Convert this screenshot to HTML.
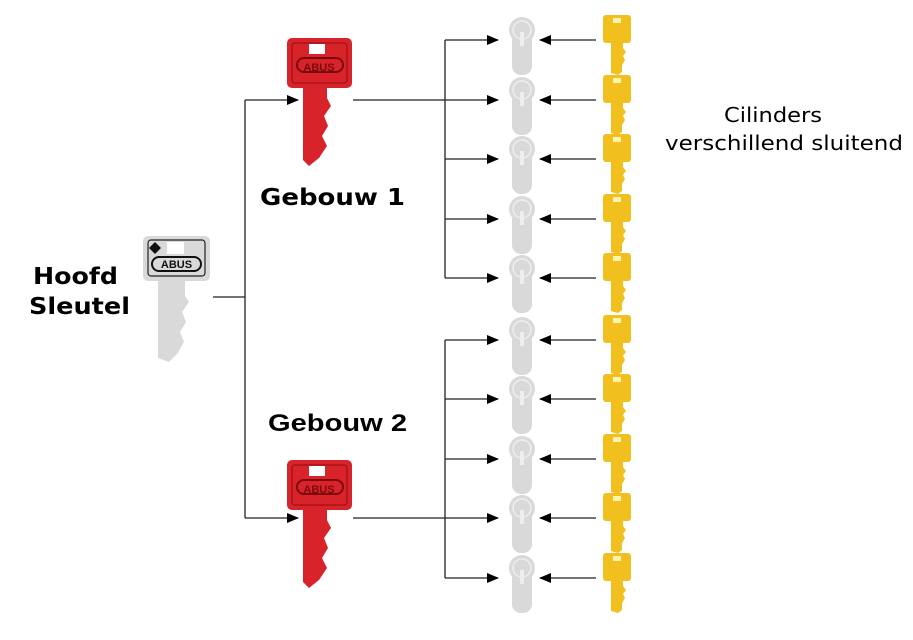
<!DOCTYPE html>
<html><head><meta charset="utf-8"><style>
html,body{margin:0;padding:0;background:#fff;}
svg{display:block}
</style></head><body>
<svg width="913" height="640" viewBox="0 0 913 640" xmlns="http://www.w3.org/2000/svg">
<defs>
<marker id="ar" markerWidth="12" markerHeight="10" refX="11" refY="5" orient="auto" markerUnits="userSpaceOnUse">
<path d="M0,0 L12,5 L0,10 Z" fill="#000"/>
</marker>
<g id="cyl">
<circle cx="0" cy="-10" r="13" fill="#d9d9d9"/>
<rect x="-10" y="-10" width="20" height="45" rx="9" fill="#d9d9d9"/>
<circle cx="0" cy="-10" r="9" fill="none" stroke="#eee" stroke-width="1.5"/>
<rect x="-2" y="-8" width="4" height="14" fill="#eee"/>
</g>
<g id="ykey">
<rect x="-14" y="-25" width="28" height="28" rx="3" fill="#f2c01e"/>
<rect x="-4" y="-22" width="8" height="5" fill="#fff3b0"/>
<path d="M-6,3 L6,3 L6,8 L9,12 L6,16 L8,20 L5,25 L5,32 L1,35 L-6,33 Z" fill="#f2c01e"/>
</g>
<g id="rkey">
<rect x="0" y="0" width="65" height="50" rx="5" fill="#d8232a"/>
<rect x="5" y="5" width="55" height="40" rx="3" fill="none" stroke="#a8141a" stroke-width="1.5"/>
<rect x="22" y="6" width="16" height="10" fill="#fff"/>
<rect x="10" y="20" width="46" height="14" rx="7" fill="none" stroke="#7a0a0e" stroke-width="2"/>
<path d="M16,50 L40,50 L40,60 L44,68 L37,78 L41,88 L35,98 L40,108 L32,120 L22,128 L16,122 Z" fill="#d8232a"/>
</g>
</defs>

<!-- master key -->
<g transform="translate(143,236)">
<rect x="0" y="0" width="67" height="45" rx="5" fill="#d9d9d9"/>
<rect x="5" y="4" width="57" height="36" rx="3" fill="none" stroke="#222" stroke-width="1.2"/>
<rect x="24" y="6" width="17" height="12" fill="#fff"/>
<path d="M12,6 L18,12 L12,18 L6,12 Z" fill="#111"/>
<rect x="9" y="21" width="49" height="14" rx="7" fill="none" stroke="#111" stroke-width="2"/>
<text x="33.5" y="32" font-family="Liberation Sans, sans-serif" font-weight="bold" font-size="11" text-anchor="middle" fill="#111">ABUS</text>
<path d="M15,45 L42,45 L42,60 L46,66 L39,76 L43,86 L37,96 L41,106 L34,118 L26,126 L15,122 Z" fill="#d9d9d9"/>
</g>

<use href="#rkey" x="287" y="38"/>
<text x="319" y="71" font-family="Liberation Sans, sans-serif" font-weight="bold" font-size="11" text-anchor="middle" fill="#7a0a0e">ABUS</text>
<use href="#rkey" x="287" y="460"/>
<text x="319" y="493" font-family="Liberation Sans, sans-serif" font-weight="bold" font-size="11" text-anchor="middle" fill="#7a0a0e">ABUS</text>

<g stroke="#222" stroke-width="1.3" fill="none">
<line x1="213" y1="297" x2="245" y2="297"/>
<line x1="245" y1="100" x2="245" y2="518"/>
<line x1="245" y1="100" x2="298" y2="100" marker-end="url(#ar)"/>
<line x1="245" y1="518" x2="298" y2="518" marker-end="url(#ar)"/>
<line x1="353" y1="100" x2="445" y2="100"/>
<line x1="353" y1="518" x2="445" y2="518"/>
<line x1="445" y1="40" x2="445" y2="278"/>
<line x1="445" y1="340" x2="445" y2="578"/>
</g>

<g stroke="#222" stroke-width="1.3">
<line x1="445" y1="40" x2="498" y2="40" marker-end="url(#ar)"/>
<line x1="445" y1="100" x2="498" y2="100" marker-end="url(#ar)"/>
<line x1="445" y1="159" x2="498" y2="159" marker-end="url(#ar)"/>
<line x1="445" y1="219" x2="498" y2="219" marker-end="url(#ar)"/>
<line x1="445" y1="278" x2="498" y2="278" marker-end="url(#ar)"/>
<line x1="445" y1="340" x2="498" y2="340" marker-end="url(#ar)"/>
<line x1="445" y1="399" x2="498" y2="399" marker-end="url(#ar)"/>
<line x1="445" y1="459" x2="498" y2="459" marker-end="url(#ar)"/>
<line x1="445" y1="518" x2="498" y2="518" marker-end="url(#ar)"/>
<line x1="445" y1="578" x2="498" y2="578" marker-end="url(#ar)"/>

<line x1="596" y1="40" x2="540" y2="40" marker-end="url(#ar)"/>
<line x1="596" y1="100" x2="540" y2="100" marker-end="url(#ar)"/>
<line x1="596" y1="159" x2="540" y2="159" marker-end="url(#ar)"/>
<line x1="596" y1="219" x2="540" y2="219" marker-end="url(#ar)"/>
<line x1="596" y1="278" x2="540" y2="278" marker-end="url(#ar)"/>
<line x1="596" y1="340" x2="540" y2="340" marker-end="url(#ar)"/>
<line x1="596" y1="399" x2="540" y2="399" marker-end="url(#ar)"/>
<line x1="596" y1="459" x2="540" y2="459" marker-end="url(#ar)"/>
<line x1="596" y1="518" x2="540" y2="518" marker-end="url(#ar)"/>
<line x1="596" y1="578" x2="540" y2="578" marker-end="url(#ar)"/>
</g>

<use href="#cyl" x="522" y="40"/><use href="#cyl" x="522" y="100"/><use href="#cyl" x="522" y="159"/><use href="#cyl" x="522" y="219"/><use href="#cyl" x="522" y="278"/>
<use href="#cyl" x="522" y="340"/><use href="#cyl" x="522" y="399"/><use href="#cyl" x="522" y="459"/><use href="#cyl" x="522" y="518"/><use href="#cyl" x="522" y="578"/>

<use href="#ykey" x="617" y="40"/><use href="#ykey" x="617" y="100"/><use href="#ykey" x="617" y="159"/><use href="#ykey" x="617" y="219"/><use href="#ykey" x="617" y="278"/>
<use href="#ykey" x="617" y="340"/><use href="#ykey" x="617" y="399"/><use href="#ykey" x="617" y="459"/><use href="#ykey" x="617" y="518"/><use href="#ykey" x="617" y="578"/>

<g font-family="DejaVu Sans, sans-serif" font-weight="bold" fill="#000">
<text x="260" y="205" font-size="23" textLength="145" lengthAdjust="spacingAndGlyphs">Gebouw 1</text>
<text x="33" y="284" font-size="23" textLength="85" lengthAdjust="spacingAndGlyphs">Hoofd</text>
<text x="29" y="314" font-size="23" textLength="101" lengthAdjust="spacingAndGlyphs">Sleutel</text>
</g>
<text x="268" y="431" font-family="Liberation Sans, sans-serif" font-weight="bold" font-size="24" textLength="139" lengthAdjust="spacingAndGlyphs">Gebouw 2</text>
<g font-family="DejaVu Sans, sans-serif" font-size="20" fill="#000">
<text x="724" y="122" textLength="98" lengthAdjust="spacingAndGlyphs">Cilinders</text>
<text x="665" y="150" textLength="238" lengthAdjust="spacingAndGlyphs">verschillend sluitend</text>
</g>
</svg>
</body></html>
